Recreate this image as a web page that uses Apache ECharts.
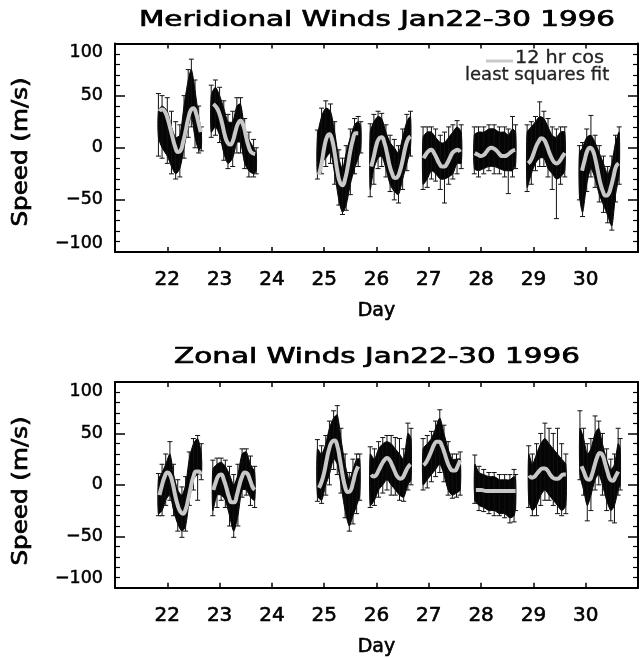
<!DOCTYPE html>
<html><head><meta charset="utf-8">
<script src="https://cdn.jsdelivr.net/npm/echarts@6/dist/echarts.min.js"></script>
<style>html,body{margin:0;padding:0;background:#fff}#c{width:641px;height:658px}</style>
</head><body><div id="c"></div>
<script>
// ---------------- data ----------------
const dayMin = 21, dayMax = 31;
const dayTickLabels = [22, 23, 24, 25, 26, 27, 28, 29, 30];
const speedTicks = [-100, -50, 0, 50, 100];
const titles = ['Meridional Winds Jan22-30 1996', 'Zonal Winds Jan22-30 1996'];
const legendLines = ['12 hr cos', 'least squares fit'];

// Meridional: each night = rows of [day, low, high, errLow, errHigh] (m/s)
const merEnv = [
  [[21.83,10,35,-8,52],[21.90,0,40,-10,50],[22.00,-8,35,-15,48],[22.08,-18,20,-25,35],[22.16,-25,10,-30,25],[22.24,-20,12,-28,22],[22.32,0,40,-10,50],[22.40,20,65,10,75],[22.46,30,75,20,85],[22.53,10,55,0,65],[22.60,-2,30,-5,40],[22.65,0,15,-3,20]],
  [[22.84,15,50,10,60],[22.92,20,58,12,65],[23.00,12,50,5,58],[23.08,-5,38,-12,45],[23.16,-15,25,-20,32],[23.25,-10,25,-18,35],[23.33,5,40,-5,48],[23.40,5,42,-5,48],[23.48,-15,18,-20,28],[23.56,-22,8,-28,15],[23.65,-25,0,-28,8],[23.70,-22,-5,-25,0]],
  [[24.87,-25,10,-30,17],[24.95,-15,30,-25,38],[25.03,-10,38,-18,45],[25.12,-5,35,-15,42],[25.20,-25,15,-35,25],[25.28,-50,-10,-55,-2],[25.35,-62,-20,-64,-10],[25.42,-55,-5,-60,2],[25.50,-35,10,-45,18],[25.58,-20,22,-25,28],[25.65,-10,25,-18,30],[25.70,0,20,-5,25]],
  [[25.88,-40,15,-47,23],[25.95,-20,25,-35,32],[26.03,-10,30,-20,35],[26.10,-8,28,-18,33],[26.18,-20,15,-28,22],[26.26,-35,5,-42,12],[26.34,-42,0,-50,8],[26.42,-45,-5,-53,2],[26.50,-30,10,-40,18],[26.58,-15,25,-22,32],[26.65,0,30,-8,35]],
  [[26.89,-35,10,-40,20],[26.97,-30,15,-38,20],[27.05,-22,15,-30,20],[27.13,-25,10,-32,18],[27.22,-30,5,-40,12],[27.30,-30,5,-53,15],[27.38,-28,10,-35,20],[27.46,-25,15,-30,22],[27.54,-15,20,-25,26],[27.62,-15,15,-20,22]],
  [[27.87,-20,12,-25,20],[27.95,-22,15,-28,20],[28.05,-20,15,-25,20],[28.15,-18,18,-22,22],[28.25,-18,18,-25,22],[28.35,-20,15,-25,20],[28.45,-22,15,-28,20],[28.52,-22,12,-44,18],[28.60,-22,18,-28,30],[28.66,-15,15,-20,22]],
  [[28.88,-38,15,-42,22],[28.96,-25,20,-35,25],[29.04,-15,25,-22,30],[29.12,-10,30,-18,44],[29.20,-10,28,-18,35],[29.28,-20,20,-28,28],[29.36,-25,12,-40,20],[29.44,-30,10,-68,18],[29.52,-28,15,-35,20],[29.60,-22,15,-28,20]],
  [[29.88,-45,-5,-50,2],[29.94,-62,0,-66,5],[30.02,-35,10,-42,18],[30.10,-20,12,-28,31],[30.18,-30,5,-38,12],[30.26,-45,-5,-52,2],[30.34,-55,-15,-62,-8],[30.42,-65,-25,-72,-18],[30.50,-75,-15,-79,-8],[30.57,-45,5,-52,12],[30.64,-25,15,-35,20]]
];
// Meridional 12 hr cos fit, rows of [day, speed]
const merFit = [
  [[21.85,35],[21.90,37],[21.95,35],[22.00,29],[22.05,20],[22.10,10],[22.15,1],[22.20,-4],[22.25,-3],[22.30,5],[22.35,16],[22.40,28],[22.45,36],[22.50,38],[22.55,33],[22.60,23],[22.64,15]],
  [[22.88,42],[22.95,38],[23.00,32],[23.05,23],[23.10,12],[23.15,5],[23.20,3],[23.25,6],[23.30,15],[23.35,23],[23.40,26],[23.45,22],[23.50,12],[23.55,2],[23.60,-4],[23.68,-6]],
  [[24.90,-26],[24.95,-15],[25.00,0],[25.05,10],[25.10,13],[25.15,8],[25.20,-5],[25.25,-22],[25.30,-33],[25.35,-36],[25.40,-30],[25.45,-18],[25.50,-3],[25.55,8],[25.60,14],[25.65,14]],
  [[25.90,-18],[25.95,-8],[26.00,3],[26.05,9],[26.10,10],[26.15,5],[26.20,-5],[26.25,-17],[26.30,-25],[26.35,-29],[26.40,-28],[26.45,-22],[26.50,-12],[26.55,0],[26.60,8],[26.65,11]],
  [[26.90,-10],[26.95,-6],[27.00,-3],[27.05,-2],[27.10,-5],[27.15,-10],[27.20,-15],[27.25,-18],[27.30,-18],[27.35,-15],[27.40,-10],[27.45,-5],[27.50,-3],[27.55,-2],[27.60,-4]],
  [[27.88,-5],[27.95,-7],[28.00,-8],[28.05,-7],[28.10,-4],[28.15,-1],[28.20,0],[28.25,-1],[28.30,-3],[28.35,-6],[28.40,-8],[28.45,-8],[28.50,-7],[28.55,-5],[28.60,-3],[28.65,-2]],
  [[28.90,-15],[28.95,-12],[29.00,-6],[29.05,1],[29.10,6],[29.15,9],[29.20,8],[29.25,3],[29.30,-4],[29.35,-10],[29.40,-14],[29.45,-15],[29.50,-13],[29.55,-9],[29.60,-5]],
  [[29.93,-22],[29.98,-12],[30.03,-3],[30.08,0],[30.13,-2],[30.18,-10],[30.23,-22],[30.28,-34],[30.33,-42],[30.38,-46],[30.43,-45],[30.48,-38],[30.53,-28],[30.58,-18],[30.63,-15]]
];

// Zonal: rows of [day, low, high, errLow, errHigh]
const zonEnv = [
  [[21.83,-28,5,-30,11],[21.90,-25,12,-30,20],[21.97,-15,20,-20,30],[22.05,-10,30,-15,42],[22.12,-25,10,-30,20],[22.20,-38,-5,-45,5],[22.28,-45,-10,-51,-2],[22.35,-40,0,-45,8],[22.42,-15,25,-20,32],[22.50,5,40,-5,45],[22.58,10,45,-15,48],[22.65,10,30,5,40]],
  [[22.87,-25,15,-30,24],[22.95,-10,20,-22,26],[23.03,-10,22,-15,26],[23.11,-15,18,-22,24],[23.19,-30,10,-40,18],[23.27,-45,0,-51,10],[23.35,-30,10,-40,20],[23.43,-5,30,-12,35],[23.51,-5,32,-10,35],[23.59,-12,20,-20,28],[23.67,-15,12,-22,18]],
  [[24.87,-10,35,-16,44],[24.95,-15,30,-18,38],[25.03,0,40,-10,48],[25.10,10,55,0,62],[25.18,25,65,15,72],[25.25,20,68,10,77],[25.32,0,45,-8,55],[25.40,-25,20,-32,30],[25.48,-40,5,-45,12],[25.55,-30,15,-38,25],[25.62,-20,25,-28,30],[25.68,-10,25,-15,30]],
  [[25.88,-20,30,-22,37],[25.96,-15,25,-20,35],[26.04,-5,35,-12,42],[26.12,0,40,-8,46],[26.20,5,42,-5,48],[26.28,0,40,-10,48],[26.36,-5,35,-10,46],[26.44,-10,30,-15,45],[26.52,-12,25,-16,35],[26.60,0,50,-5,60],[26.66,5,45,0,55]],
  [[26.89,0,35,-5,45],[26.97,5,40,-3,48],[27.05,10,45,3,52],[27.13,15,55,8,62],[27.21,20,65,12,73],[27.29,10,50,3,58],[27.37,-5,35,-10,42],[27.45,-10,25,-13,30],[27.53,-8,25,-12,30],[27.60,-5,25,-10,32]],
  [[27.88,-15,20,-18,29],[27.96,-20,12,-25,18],[28.05,-22,10,-26,15],[28.15,-25,8,-28,12],[28.25,-25,8,-30,12],[28.35,-28,5,-30,10],[28.45,-28,5,-32,10],[28.55,-32,5,-37,10],[28.63,-30,8,-36,15],[28.66,-20,5,-25,10]],
  [[28.91,-15,30,-22,38],[28.98,-25,20,-30,30],[29.06,-20,30,-30,40],[29.14,-10,40,-20,50],[29.22,-5,45,-15,60],[29.30,-10,40,-15,55],[29.38,-15,35,-20,50],[29.46,-20,30,-28,55],[29.54,-25,25,-30,40],[29.62,-20,20,-28,30]],
  [[29.89,10,55,5,72],[29.96,-5,45,-10,55],[30.03,-20,30,-35,40],[30.10,-10,35,-25,45],[30.18,5,50,-5,67],[30.25,10,55,0,62],[30.32,0,40,-10,50],[30.40,-15,25,-25,35],[30.48,-25,15,-35,25],[30.55,-20,20,-37,30],[30.62,-5,40,-10,55],[30.66,0,35,-5,45]]
];
const zonFit = [
  [[21.85,-10],[21.90,0],[21.95,8],[22.00,12],[22.05,10],[22.10,2],[22.15,-10],[22.20,-20],[22.25,-26],[22.30,-28],[22.35,-24],[22.40,-14],[22.45,-2],[22.50,8],[22.55,13],[22.60,13],[22.64,10]],
  [[22.88,-5],[22.93,3],[22.98,9],[23.03,10],[23.08,5],[23.13,-3],[23.18,-12],[23.23,-17],[23.28,-17],[23.33,-10],[23.38,0],[23.43,8],[23.48,12],[23.53,11],[23.58,5],[23.63,-2],[23.67,-5]],
  [[24.90,-3],[24.95,3],[25.00,12],[25.05,25],[25.10,36],[25.15,42],[25.20,43],[25.25,38],[25.30,25],[25.35,10],[25.40,-2],[25.45,-7],[25.50,-6],[25.55,2],[25.60,12],[25.65,18]],
  [[25.90,10],[25.95,8],[26.00,10],[26.05,15],[26.10,20],[26.15,24],[26.20,26],[26.25,24],[26.30,19],[26.35,13],[26.40,8],[26.45,6],[26.50,7],[26.55,12],[26.60,17],[26.65,20]],
  [[26.90,19],[26.95,22],[27.00,27],[27.05,33],[27.10,39],[27.15,42],[27.20,42],[27.25,38],[27.30,31],[27.35,23],[27.40,17],[27.45,14],[27.50,14],[27.55,18],[27.60,24]],
  [[27.90,-5],[28.00,-5],[28.10,-6],[28.20,-6],[28.30,-6],[28.40,-6],[28.50,-6],[28.60,-6],[28.66,-6]],
  [[28.92,9],[28.97,7],[29.02,8],[29.07,11],[29.12,14],[29.17,16],[29.22,16],[29.27,14],[29.32,10],[29.37,7],[29.42,6],[29.47,6],[29.52,8],[29.57,10],[29.62,10]],
  [[29.92,18],[29.97,12],[30.02,6],[30.07,5],[30.12,10],[30.17,19],[30.22,27],[30.27,31],[30.32,29],[30.37,21],[30.42,12],[30.47,5],[30.52,4],[30.57,8],[30.62,13]]
];

// ---------------- chart ----------------
const FONT = '"DejaVu Sans", sans-serif';
const chart = echarts.init(document.getElementById('c'), null, {renderer: 'canvas'});

const grids = [
  {left: 115, top: 43.5, width: 527, height: 208.5},
  {left: 115, top: 382, width: 527, height: 209}
];

function xAxes(g) {
  return [
    {gridIndex: g, type: 'value', min: dayMin, max: dayMax, interval: 1, position: 'bottom',
     axisLine: {show: true, onZero: false, lineStyle: {color: '#000', width: 2}},
     axisTick: {show: true, inside: true, length: 5, lineStyle: {color: '#000', width: 1.5}},
     axisLabel: {show: true, color: '#000', fontSize: 20, fontFamily: FONT, margin: 18,
       textBorderColor: '#000', textBorderWidth: 0.6,
       formatter: v => dayTickLabels.indexOf(v) >= 0 ? String(v) : ''},
     splitLine: {show: false},
     name: 'Day', nameLocation: 'middle', nameGap: 50,
     nameTextStyle: {color: '#000', fontSize: 19, fontFamily: FONT, textBorderColor: '#000', textBorderWidth: 0.6}},
    {gridIndex: g, type: 'value', min: dayMin, max: dayMax, interval: 1, position: 'top',
     axisLine: {show: true, onZero: false, lineStyle: {color: '#000', width: 2}},
     axisTick: {show: true, inside: true, length: 5, lineStyle: {color: '#000', width: 1.5}},
     axisLabel: {show: false}, splitLine: {show: false}}
  ];
}
function yAxes(g) {
  const common = {gridIndex: g, type: 'value', min: -100, max: 100, interval: 50,
    axisLine: {show: true, onZero: false, lineStyle: {color: '#000', width: 2}},
    axisTick: {show: true, inside: true, length: 10, lineStyle: {color: '#000', width: 1.5}},
    minorTick: {show: true, splitNumber: 5, length: 5, lineStyle: {color: '#000', width: 1.2}},
    splitLine: {show: false}};
  return [
    Object.assign({}, common, {position: 'left',
      axisLabel: {show: true, color: '#000', fontSize: 17.5, fontFamily: FONT, margin: 12,
        textBorderColor: '#000', textBorderWidth: 0.5,
        verticalAlignMaxLabel: 'top', verticalAlignMinLabel: 'bottom',
        formatter: v => speedTicks.indexOf(v) >= 0 ? String(v).replace('-', '\u2212') : ''}}),
    Object.assign({}, common, {position: 'right', axisLabel: {show: false}})
  ];
}

function blobSeries(env, xi, yi) {
  return {
    type: 'custom', xAxisIndex: xi, yAxisIndex: yi, coordinateSystem: 'cartesian2d',
    data: env.map((n, i) => [n[0][0], 0, i]),
    encode: {x: 0, y: 1},
    clip: true, silent: true, z: 2,
    renderItem: function (params, api) {
      const night = env[params.dataIndex];
      const pts = [];
      night.forEach(r => pts.push(api.coord([r[0], r[2]])));
      for (let k = night.length - 1; k >= 0; k--) pts.push(api.coord([night[k][0], night[k][1]]));
      const children = [{type: 'polygon', shape: {points: pts, smooth: 0.25},
        style: {fill: '#050505', stroke: '#050505', lineWidth: 1}}];
      night.forEach(r => {
        const a = api.coord([r[0], r[3]]), b = api.coord([r[0], r[4]]);
        children.push({type: 'line', shape: {x1: a[0], y1: a[1], x2: b[0], y2: b[1]}, style: {stroke: '#111', lineWidth: 1}});
        children.push({type: 'line', shape: {x1: a[0] - 2.5, y1: a[1], x2: a[0] + 2.5, y2: a[1]}, style: {stroke: '#111', lineWidth: 1}});
        children.push({type: 'line', shape: {x1: b[0] - 2.5, y1: b[1], x2: b[0] + 2.5, y2: b[1]}, style: {stroke: '#111', lineWidth: 1}});
      });
      return {type: 'group', children: children};
    }
  };
}
function fitSeries(fit, xi, yi) {
  return fit.map(n => ({
    type: 'line', xAxisIndex: xi, yAxisIndex: yi, data: n, smooth: true,
    showSymbol: false, silent: true, z: 5,
    lineStyle: {color: '#c8c8c8', width: 4}
  }));
}

const series = [blobSeries(merEnv, 0, 0), blobSeries(zonEnv, 2, 2)]
  .concat(fitSeries(merFit, 0, 0)).concat(fitSeries(zonFit, 2, 2));

function textEl(txt, x, y, size, sx, rot, align, color, bw) {
  return {type: 'text', x: x, y: y, rotation: rot || 0, scaleX: sx, scaleY: 1, z: 10,
    style: {text: txt, font: size + 'px ' + FONT, fill: color || '#000',
      align: align || 'center', verticalAlign: 'middle', stroke: color || '#000',
      lineWidth: bw === undefined ? 0.7 : bw}};
}

chart.setOption({
  animation: false,
  backgroundColor: '#fff',
  grid: grids,
  xAxis: xAxes(0).concat(xAxes(1)),
  yAxis: yAxes(0).concat(yAxes(1)),
  series: series,
  graphic: [
    textEl(titles[0], 377, 21, 21, 1.4),
    textEl(titles[1], 377, 358, 21, 1.4),
    textEl('Speed (m/s)', 22, 152, 20.5, 1.2, Math.PI / 2),
    textEl('Speed (m/s)', 22, 491, 20.5, 1.2, Math.PI / 2),
    {type: 'line', z: 10, shape: {x1: 486, y1: 61, x2: 513, y2: 61}, style: {stroke: '#c8c8c8', lineWidth: 3}},
    textEl(legendLines[0], 515, 59, 17, 1.13, 0, 'left', '#222', 0.3),
    textEl(legendLines[1], 465, 76, 17, 1.06, 0, 'left', '#222', 0.3)
  ]
});
</script></body></html>
